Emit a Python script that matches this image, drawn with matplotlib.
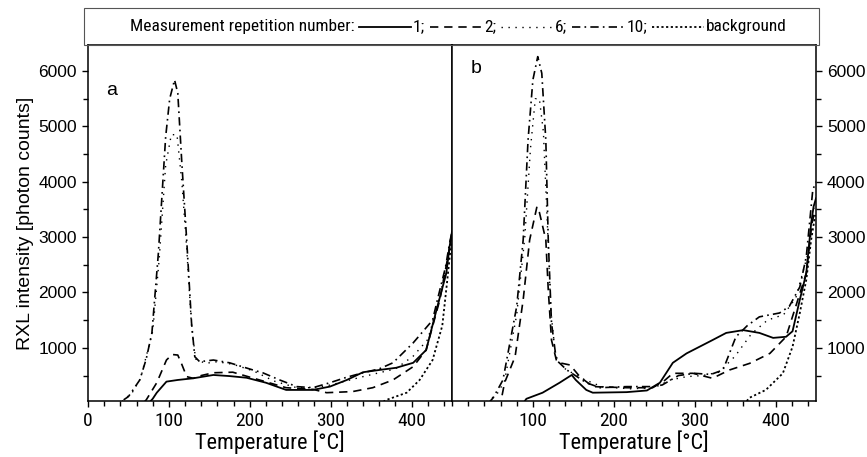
import matplotlib
matplotlib.use("Agg")
import matplotlib.pyplot as plt
from matplotlib import font_manager
from matplotlib.lines import Line2D
from matplotlib.patches import Rectangle
from matplotlib.ticker import MultipleLocator, FixedLocator

# ---------------- data ----------------
# panel a
a_T1 = [0, 75, 80, 85, 97, 111, 130, 155, 175, 196, 220, 245, 278, 299, 320, 340, 360, 381, 402, 418, 432, 443, 447, 450]
a_I1 = [0, 0, 80, 190, 390, 420, 450, 510, 490, 460, 370, 240, 240, 300, 420, 560, 600, 640, 730, 960, 1750, 2350, 2830, 3100]
a_T2 = [0, 68, 72, 85, 97, 104, 111, 116, 122, 130, 140, 155, 179, 212, 245, 278, 295, 327, 352, 377, 402, 418, 435, 445, 449]
a_I2 = [0, 0, 60, 370, 780, 880, 870, 700, 480, 450, 500, 550, 560, 420, 280, 250, 190, 210, 280, 420, 660, 960, 1870, 2650, 3000]
a_T6 = [0, 40, 55, 65, 80, 88, 96, 103, 110, 116, 122, 128, 133, 145, 160, 180, 205, 230, 258, 280, 300, 340, 380, 402, 420, 433, 442, 448]
a_I6 = [0, 0, 200, 450, 1300, 2600, 4300, 4850, 4850, 4000, 2800, 1400, 800, 720, 750, 700, 580, 400, 280, 280, 330, 480, 620, 850, 1150, 1800, 2400, 2800]
a_T10 = [0, 38, 50, 64, 72, 79, 87, 96, 101, 107, 111, 116, 122, 128, 132, 138, 155, 175, 204, 216, 237, 258, 278, 299, 320, 340, 360, 377, 402, 426, 432, 442, 447, 450]
a_I10 = [0, 0, 120, 420, 800, 1270, 2710, 4810, 5500, 5840, 5600, 4340, 2950, 1450, 840, 750, 780, 730, 600, 550, 420, 300, 280, 370, 470, 550, 620, 730, 1090, 1500, 1870, 2460, 2890, 3100]
a_Tbg = [0, 362, 369, 394, 410, 426, 438, 444, 449]
a_Ibg = [0, 0, 60, 190, 420, 780, 1400, 2200, 2900]

# panel b
b_T1 = [0, 88, 92, 112, 133, 148, 153, 166, 174, 216, 241, 257, 273, 290, 306, 322, 339, 360, 380, 397, 413, 421, 430, 438, 444, 447, 450]
b_I1 = [0, 0, 80, 190, 370, 510, 420, 240, 190, 200, 230, 370, 730, 900, 1020, 1140, 1270, 1320, 1270, 1180, 1200, 1300, 1870, 2350, 3250, 3550, 3700]
b_T2 = [0, 60, 65, 78, 88, 96, 105, 108, 116, 119, 123, 129, 133, 146, 158, 174, 216, 248, 262, 273, 298, 322, 343, 368, 393, 413, 425, 438, 445, 449]
b_I2 = [0, 0, 370, 840, 1870, 2950, 3550, 3450, 2950, 2050, 1140, 780, 730, 690, 480, 300, 280, 280, 400, 540, 540, 450, 600, 720, 900, 1200, 1750, 2350, 3250, 3500]
b_T6 = [0, 40, 55, 65, 80, 90, 97, 103, 108, 113, 118, 122, 128, 140, 160, 185, 220, 250, 270, 290, 310, 330, 350, 370, 390, 410, 425, 440, 448]
b_I6 = [0, 0, 150, 400, 1600, 3000, 4600, 5500, 5500, 4900, 3200, 1700, 850, 620, 450, 300, 260, 280, 420, 480, 500, 560, 850, 1250, 1500, 1600, 1900, 2700, 3600]
b_T10 = [0, 45, 51, 63, 80, 88, 94, 100, 106, 111, 116, 119, 123, 129, 142, 166, 183, 216, 248, 260, 280, 300, 320, 335, 351, 365, 380, 405, 417, 430, 438, 446, 450]
b_I10 = [0, 0, 100, 420, 1750, 2950, 4750, 5840, 6260, 5960, 4750, 2950, 1450, 780, 600, 370, 280, 300, 300, 330, 500, 540, 520, 600, 1200, 1400, 1560, 1630, 1750, 2100, 2650, 3850, 4000]
b_Tbg = [0, 362, 368, 388, 409, 421, 430, 438, 444, 449]
b_Ibg = [0, 0, 100, 240, 540, 1020, 1630, 2230, 2950, 3400]

legend_title = "Measurement repetition number:"
series_labels = ["1;", "2;", "6;", "10;", "background"]
panel_labels = ["a", "b"]
x_label = "Temperature [°C]"
y_label = "RXL intensity [photon counts]"

# ---------------- styles ----------------
styles = [
    dict(ls="-", lw=1.3),
    dict(ls=(0, (5, 3.5)), lw=1.2),
    dict(ls=(0, (1, 4)), lw=1.0),
    dict(ls=(0, (5, 2.5, 1, 2.5)), lw=1.2),
    dict(ls=(0, (1.2, 1.4)), lw=1.3),
]

avail = {f.name for f in font_manager.fontManager.ttflist}
sans = "Liberation Sans" if "Liberation Sans" in avail else "DejaVu Sans"
narrow = None
for cand in ["Liberation Sans Narrow", "Arial Narrow", "DejaVu Sans Condensed", "Roboto Condensed"]:
    if cand in avail:
        narrow = cand
        break
narrow_kw = dict(family=narrow) if narrow else dict(family=sans, stretch="condensed")

plt.rcParams["font.family"] = [sans, "DejaVu Sans"]

W, H = 867, 457
fig = plt.figure(figsize=(W / 100, H / 100), dpi=100)

def fx(px):
    return px / W

def fy(py):
    return 1 - py / H

ax_top, ax_bot = 45, 401
axa = fig.add_axes([fx(88), fy(ax_bot), fx(452) - fx(88), fy(ax_top) - fy(ax_bot)])
axb = fig.add_axes([fx(452), fy(ax_bot), fx(816) - fx(452), fy(ax_top) - fy(ax_bot)])

data_a = [(a_T1, a_I1), (a_T2, a_I2), (a_T6, a_I6), (a_T10, a_I10), (a_Tbg, a_Ibg)]
data_b = [(b_T1, b_I1), (b_T2, b_I2), (b_T6, b_I6), (b_T10, b_I10), (b_Tbg, b_Ibg)]

for ax, data in [(axa, data_a), (axb, data_b)]:
    for (t, i), st in zip(data, styles):
        ax.plot(t, i, color="black", **st)
    ax.set_xlim(0, 450)
    ax.set_ylim(40, 6470)
    ax.xaxis.set_major_locator(MultipleLocator(100))
    ax.xaxis.set_minor_locator(MultipleLocator(20))
    ax.yaxis.set_major_locator(FixedLocator([1000, 2000, 3000, 4000, 5000, 6000]))
    ax.yaxis.set_minor_locator(FixedLocator([500, 1500, 2500, 3500, 4500, 5500]))
    for s in ax.spines.values():
        s.set_linewidth(1.1)
    ax.tick_params(which="major", direction="out", length=4.5, width=1.0)
    ax.tick_params(which="minor", direction="out", length=3.5, width=1.0)
    ax.set_xlabel(x_label, fontsize=16, labelpad=0, **narrow_kw)

for lab in axa.get_xticklabels() + axb.get_xticklabels():
    lab.set_fontsize(14)
    lab.set_family(narrow_kw.get("family"))
    if "stretch" in narrow_kw:
        lab.set_stretch("condensed")

axa.tick_params(axis="y", which="both", left=True, right=False, labelleft=True, labelsize=12.5)
axa.set_ylabel(y_label, fontsize=14, labelpad=3)
axb.tick_params(axis="y", which="both", left=False, right=True, labelleft=False, labelright=True, labelsize=12.5)
axb.xaxis.set_major_locator(FixedLocator([100, 200, 300, 400]))

axa.text(0.05, 0.86, panel_labels[0], transform=axa.transAxes, fontsize=14)
axb.text(0.05, 0.92, panel_labels[1], transform=axb.transAxes, fontsize=14)

# ---------------- legend box ----------------
box_l, box_r, box_t, box_b = 84, 819, 8, 45
fig.add_artist(Rectangle((fx(box_l), fy(box_b)), fx(box_r) - fx(box_l), fy(box_t) - fy(box_b),
                         transform=fig.transFigure, fill=False, edgecolor="#555555", lw=0.8))

fig.canvas.draw()
renderer = fig.canvas.get_renderer()
yc = fy(27)
x = 130
t = fig.text(fx(x), yc, legend_title, fontsize=12.5, va="center", ha="left", **narrow_kw)
x += t.get_window_extent(renderer).width + 4
sample_len = 52
for lab, st in zip(series_labels, styles):
    fig.add_artist(Line2D([fx(x), fx(x + sample_len)], [yc, yc], transform=fig.transFigure,
                          color="black", **st))
    x += sample_len + 2
    t = fig.text(fx(x), yc, lab, fontsize=12.5, va="center", ha="left", **narrow_kw)
    x += t.get_window_extent(renderer).width + 5

fig.savefig("out.png", dpi=100)
